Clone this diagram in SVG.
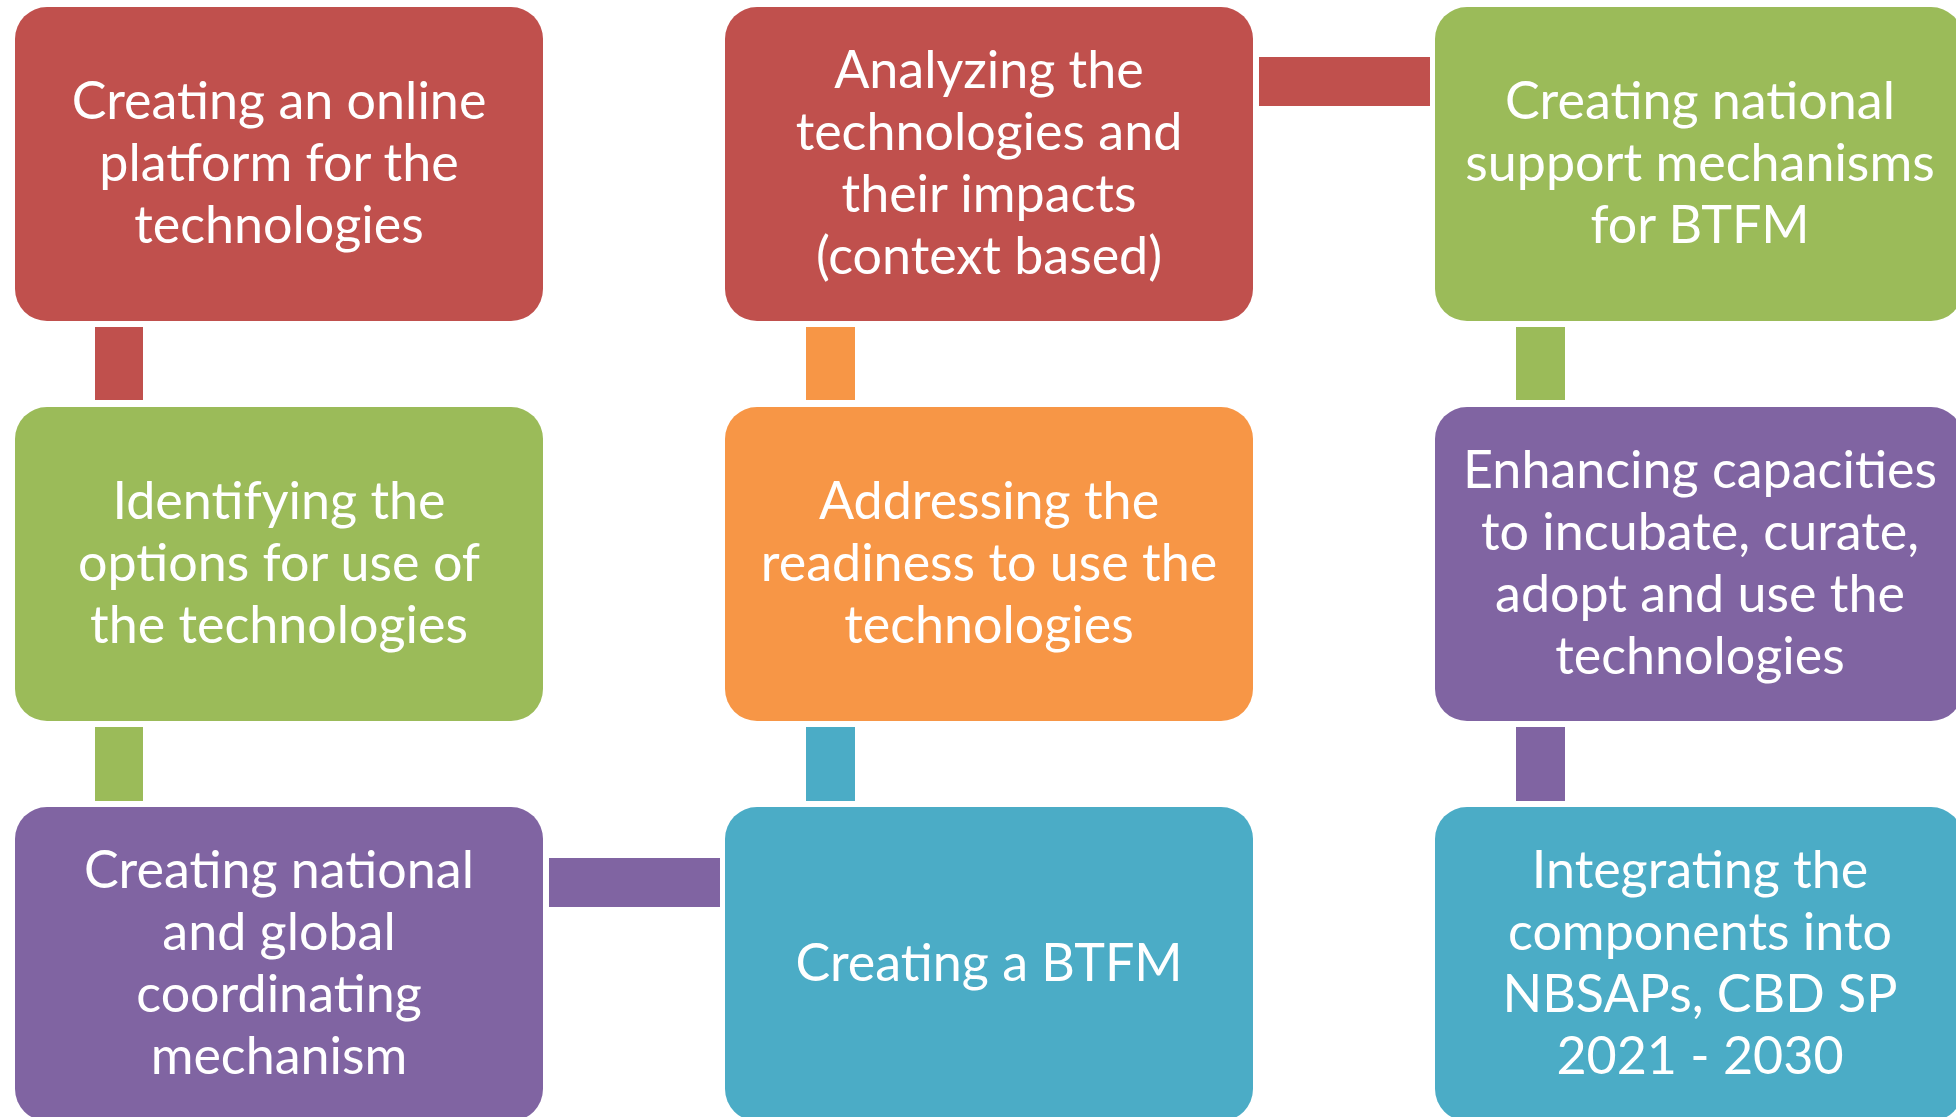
<svg xmlns="http://www.w3.org/2000/svg" width="1956" height="1117" viewBox="0 0 1956 1117">
<style>
.box{stroke:none}
.red{fill:#C0504D}
.green{fill:#9BBB59}
.orange{fill:#F79646}
.purple{fill:#8064A2}
.teal{fill:#4BACC6}
text{font-family:Lato,"Liberation Sans",sans-serif;font-size:52px;fill:#FFFFFF;text-anchor:middle}
</style>
<rect width="1956" height="1117" fill="#FFFFFF"/>
<g id="connectors">
<rect class="red" x="95" y="327" width="48" height="73"/>
<rect class="green" x="95" y="727" width="48" height="74"/>
<rect class="orange" x="806" y="327" width="49" height="73"/>
<rect class="teal" x="806" y="727" width="49" height="74"/>
<rect class="green" x="1516" y="327" width="49" height="73"/>
<rect class="purple" x="1516" y="727" width="49" height="74"/>
<rect class="red" x="1259" y="57" width="171" height="49"/>
<rect class="purple" x="549" y="858" width="171" height="49"/>
</g>
<g id="node1">
<rect class="box red" x="15" y="7" width="528" height="314" rx="32"/>
<text x="279" y="119">Creating an online</text>
<text x="279" y="181">platform for the</text>
<text x="279" y="243">technologies</text>
</g>
<g id="node2">
<rect class="box red" x="725" y="7" width="528" height="314" rx="32"/>
<text x="989" y="88">Analyzing the</text>
<text x="989" y="150">technologies and</text>
<text x="989" y="212">their impacts</text>
<text x="989" y="274">(context based)</text>
</g>
<g id="node3">
<rect class="box green" x="1435" y="7" width="528" height="314" rx="32"/>
<text x="1700" y="119">Creating national</text>
<text x="1700" y="181">support mechanisms</text>
<text x="1700" y="243">for BTFM</text>
</g>
<g id="node4">
<rect class="box green" x="15" y="407" width="528" height="314" rx="32"/>
<text x="279" y="519">Identifying the</text>
<text x="279" y="581">options for use of</text>
<text x="279" y="643">the technologies</text>
</g>
<g id="node5">
<rect class="box orange" x="725" y="407" width="528" height="314" rx="32"/>
<text x="989" y="519">Addressing the</text>
<text x="989" y="581">readiness to use the</text>
<text x="989" y="643">technologies</text>
</g>
<g id="node6">
<rect class="box purple" x="1435" y="407" width="528" height="314" rx="32"/>
<text x="1700" y="488">Enhancing capacities</text>
<text x="1700" y="550">to incubate, curate,</text>
<text x="1700" y="612">adopt and use the</text>
<text x="1700" y="674">technologies</text>
</g>
<g id="node7">
<rect class="box purple" x="15" y="807" width="528" height="314" rx="32"/>
<text x="279" y="888">Creating national</text>
<text x="279" y="950">and global</text>
<text x="279" y="1012">coordinating</text>
<text x="279" y="1074">mechanism</text>
</g>
<g id="node8">
<rect class="box teal" x="725" y="807" width="528" height="314" rx="32"/>
<text x="989" y="981">Creating a BTFM</text>
</g>
<g id="node9">
<rect class="box teal" x="1435" y="807" width="528" height="314" rx="32"/>
<text x="1700" y="888">Integrating the</text>
<text x="1700" y="950">components into</text>
<text x="1700" y="1012">NBSAPs, CBD SP</text>
<text x="1700" y="1074">2021 - 2030</text>
</g>
</svg>
